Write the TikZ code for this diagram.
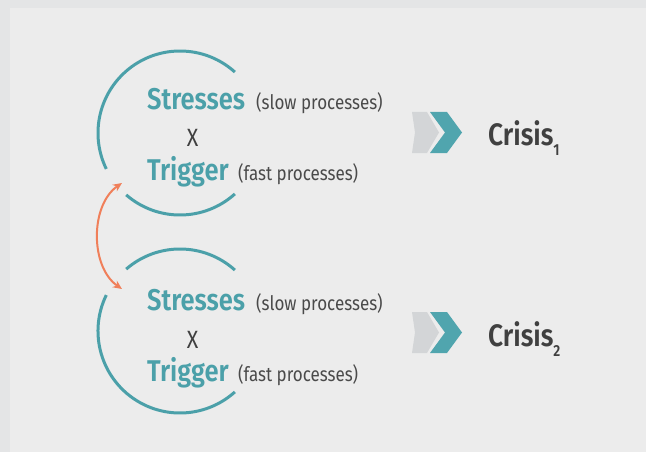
\documentclass[tikz,border=0pt]{standalone}
\usepackage{fontspec}
\setmainfont{Fira Sans}[FakeStretch=0.85, BoldFont={Fira Sans SemiBold}]
\usetikzlibrary{arrows.meta}
\definecolor{outerbg}{HTML}{E4E5E6}
\definecolor{innerbg}{HTML}{ECECEC}
\definecolor{teal}{HTML}{4BA0A9}
\definecolor{darktext}{HTML}{404040}
\definecolor{graytext}{HTML}{4A4A4A}
\definecolor{chevgray}{HTML}{D3D5D7}
\definecolor{chevteal}{HTML}{50A5AE}
\definecolor{orangec}{HTML}{F07F5A}
\tikzset{
  ring/.style={draw=teal, line width=3pt},
  biglabel/.style={anchor=base west, inner sep=0pt, text=teal, font=\fontsize{30}{30}\selectfont\bfseries},
  smalllabel/.style={anchor=base west, inner sep=0pt, text=graytext, font=\fontsize{20}{20}\selectfont},
  timesx/.style={anchor=center, inner sep=0pt, text=darktext, font=\fontsize{25}{25}\selectfont},
  crisislabel/.style={anchor=base west, inner sep=0pt, text=darktext, font=\fontsize{31}{31}\selectfont\bfseries},
  linkarrow/.style={draw=orangec, line width=2pt, {Stealth[length=9pt,width=8pt]}-{Stealth[length=9pt,width=8pt]}},
}
\newcommand{\crisissub}[1]{\raisebox{-10pt}{\fontsize{16}{16}\selectfont #1}}
\begin{document}
\begin{tikzpicture}[x=1pt,y=-1pt]
\useasboundingbox (0,0) rectangle (646,452);
\fill[outerbg] (0,0) rectangle (646,452);
\fill[innerbg] (10,8) rectangle (646,452);

% circles
\coordinate (c1) at (180,133);
\coordinate (c2) at (180,331);
\draw[ring] (c1) ++(-48:82) arc[start angle=-48, end angle=-206, radius=82];
\draw[ring] (c1) ++(-229:82) arc[start angle=-229, end angle=-312, radius=82];
\draw[ring] (c2) ++(-131:82) arc[start angle=-131, end angle=-48, radius=82];
\draw[ring] (c2) ++(-154:82) arc[start angle=-154, end angle=-312, radius=82];

% link arrow
\coordinate (a1) at (122,183);
\coordinate (a2) at (122,289);
\draw[linkarrow] (a1) .. controls (90,205) and (90,267) .. (a2);

% texts block 1
\node[biglabel] (s1) at (147,110) {Stresses};
\node[smalllabel] (sp1) at (256,110) {(slow processes)};
\node[timesx] (x1) at (192.5,137.5) {X};
\node[biglabel] (t1) at (147,180) {Trigger};
\node[smalllabel] (fp1) at (238,180) {(fast processes)};

% texts block 2
\node[biglabel] (s2) at (147,310) {Stresses};
\node[smalllabel] (sp2) at (256,310) {(slow processes)};
\node[timesx] (x2) at (192.5,339.5) {X};
\node[biglabel] (t2) at (147,381) {Trigger};
\node[smalllabel] (fp2) at (238,381) {(fast processes)};

% chevrons
\fill[chevgray] (412,112) -- (427,112) -- (439,132.5) -- (427,153) -- (412,153) -- (415,132.5) -- cycle;
\fill[chevteal] (430,112) -- (447,112) -- (462,132.5) -- (447,153) -- (430,153) -- (445,132.5) -- cycle;
\fill[chevgray] (412,312) -- (427,312) -- (439,332.5) -- (427,353) -- (412,353) -- (415,332.5) -- cycle;
\fill[chevteal] (430,312) -- (447,312) -- (462,332.5) -- (447,353) -- (430,353) -- (445,332.5) -- cycle;

% crisis labels
\node[crisislabel] (cr1) at (488,146) {Crisis\crisissub{1}};
\node[crisislabel] (cr2) at (488,346) {Crisis\crisissub{2}};
\end{tikzpicture}
\end{document}
